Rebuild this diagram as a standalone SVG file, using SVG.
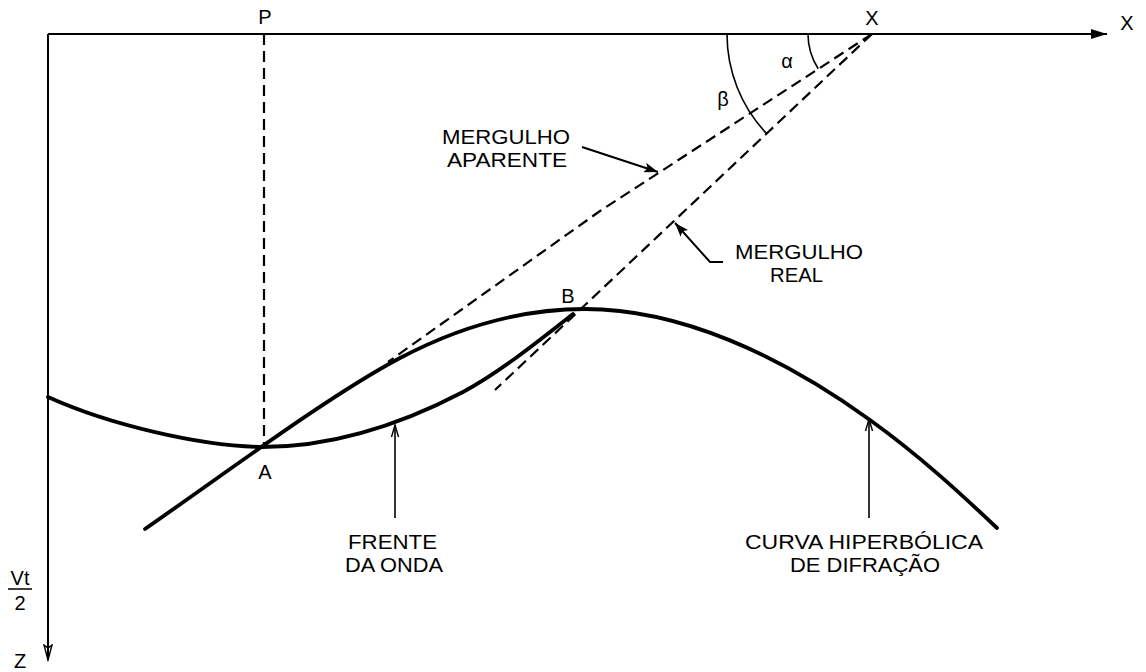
<svg xmlns="http://www.w3.org/2000/svg" width="1146" height="672" viewBox="0 0 1146 672">
<style>
.lbl{font-family:"Liberation Sans",Arial,sans-serif;font-size:20px;fill:#000}
.sm{font-family:"Liberation Sans",Arial,sans-serif;font-size:20px;fill:#000}
.axis{stroke:#000;stroke-width:2;fill:none}
.dash{stroke:#000;stroke-width:2.2;fill:none;stroke-dasharray:11 6}
.curve{stroke:#000;stroke-width:3.8;fill:none;stroke-linecap:round}
.thin{stroke:#000;stroke-width:1.6;fill:none}
.lead{stroke:#000;stroke-width:2;fill:none}
</style>
<defs>
<marker id="solid" markerUnits="userSpaceOnUse" markerWidth="16" markerHeight="10" refX="14" refY="5" orient="auto">
<path d="M0,0 L14,5 L0,10 L3,5 z" fill="#000"/>
</marker>
<marker id="open" markerUnits="userSpaceOnUse" markerWidth="14" markerHeight="10" refX="13" refY="5" orient="auto">
<path d="M1,1.5 L13,5 L1,8.5" fill="none" stroke="#000" stroke-width="1.4"/>
</marker>
<marker id="axX" markerUnits="userSpaceOnUse" markerWidth="18" markerHeight="12" refX="16" refY="6" orient="auto">
<path d="M0,1 L16,6 L0,11 z" fill="#000"/>
</marker>
<marker id="axZ" markerUnits="userSpaceOnUse" markerWidth="18" markerHeight="12" refX="16" refY="6" orient="auto">
<path d="M1,2 L16,6 L1,10 L4,6 z" fill="none" stroke="#000" stroke-width="1.4"/>
</marker>
</defs>

<g id="axes">
<line class="axis" x1="48" y1="34" x2="1107" y2="34" marker-end="url(#axX)"/>
<line class="axis" x1="48" y1="34" x2="48" y2="660" marker-end="url(#axZ)"/>
<text class="sm" x="1127" y="30" text-anchor="middle">X</text>
<text class="sm" x="20" y="668" text-anchor="middle">Z</text>
<text class="sm" x="20" y="585" text-anchor="middle">Vt</text>
<line x1="8" y1="589" x2="32" y2="589" stroke="#000" stroke-width="1.5"/>
<text class="sm" x="20" y="610" text-anchor="middle">2</text>
</g>

<g id="connectors">
<line class="dash" x1="264" y1="34" x2="264" y2="447"/>
<path class="dash" d="M872,34 L600,211 L388,362"/>
<line class="dash" x1="872" y1="34" x2="495" y2="390"/>
<path class="thin" d="M808,34 A64,64 0 0 0 818.2,68.7"/>
<path class="thin" d="M727,34 A145,145 0 0 0 766.4,133.4"/>
<line class="lead" x1="582" y1="147" x2="658" y2="172" marker-end="url(#solid)"/>
<polyline class="lead" points="723,262 710,262 675,223" marker-end="url(#solid)"/>
<line class="thin" x1="395" y1="518" x2="395" y2="425" marker-end="url(#open)"/>
<line class="thin" x1="869" y1="518" x2="869" y2="419" marker-end="url(#open)"/>
</g>

<g id="hyperbola">
<path class="curve" d="M145,529 C230,470 330,395 400,358 C470,321 530,309 585,309 C680,309 780,355 870,420 C920,456 960,493 997,528"/>
</g>
<g id="wavefront">
<path class="curve" d="M48,397 C110,425 200,446 262,447 C330,447 400,425 463,392 C500,372 540,340 573,314"/>
</g>

<g id="point-P"><text class="sm" x="265" y="24" text-anchor="middle">P</text></g>
<g id="point-X"><text class="sm" x="872" y="25" text-anchor="middle">X</text></g>
<g id="point-A"><text class="sm" x="265" y="479" text-anchor="middle">A</text></g>
<g id="point-B"><text class="sm" x="568" y="303" text-anchor="middle">B</text></g>
<g id="angle-alpha"><text class="sm" x="787" y="68" text-anchor="middle">α</text></g>
<g id="angle-beta"><text class="sm" x="723" y="106" text-anchor="middle">β</text></g>

<g id="label-apparent">
<text class="lbl"><tspan x="442" y="144" textLength="128" lengthAdjust="spacingAndGlyphs">MERGULHO</tspan><tspan x="447" y="166.5" textLength="120" lengthAdjust="spacingAndGlyphs">APARENTE</tspan></text>
</g>
<g id="label-real">
<text class="lbl"><tspan x="735" y="259" textLength="128" lengthAdjust="spacingAndGlyphs">MERGULHO</tspan><tspan x="770" y="281.5" textLength="53" lengthAdjust="spacingAndGlyphs">REAL</tspan></text>
</g>
<g id="label-frente">
<text class="lbl"><tspan x="348" y="549" textLength="89" lengthAdjust="spacingAndGlyphs">FRENTE</tspan><tspan x="345" y="571.5" textLength="98" lengthAdjust="spacingAndGlyphs">DA ONDA</tspan></text>
</g>
<g id="label-curva">
<text class="lbl"><tspan x="745" y="549" textLength="238" lengthAdjust="spacingAndGlyphs">CURVA HIPERBÓLICA</tspan><tspan x="790" y="571.5" textLength="150" lengthAdjust="spacingAndGlyphs">DE DIFRAÇÃO</tspan></text>
</g>
</svg>
